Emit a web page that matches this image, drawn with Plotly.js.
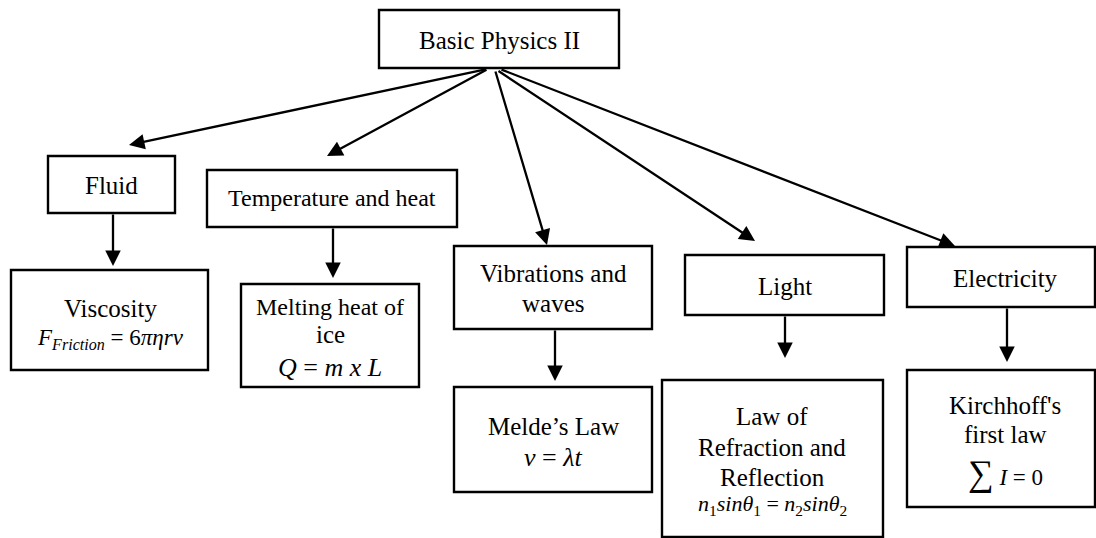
<!DOCTYPE html>
<html>
<head>
<meta charset="utf-8">
<script src="https://cdn.plot.ly/plotly-3.0.1.min.js"></script>
<style>html,body{margin:0;padding:0;background:#fff;}#chart{width:1096px;height:538px;}</style>
</head>
<body>
<div id="chart"></div>
<script>
// ---- content ----
const rootLabel = ["Basic Physics II"];
const topicLabels = [
  ["Fluid"],
  ["Temperature and heat"],
  ["Vibrations and", "waves"],
  ["Light"],
  ["Electricity"]
];
const lawLabels = [
  ["Viscosity", "<i>F</i><sub><i>Friction</i></sub> = 6<i>πηrv</i>"],
  ["Melting heat of", "ice", "<i>Q</i> = <i>m x L</i>"],
  ["Melde’s Law", "<i>v</i> = <i>λt</i>"],
  ["Law of", "Refraction and", "Reflection", "<i>n</i><sub>1</sub><i>sinθ</i><sub>1</sub> = <i>n</i><sub>2</sub><i>sinθ</i><sub>2</sub>"],
  ["Kirchhoff's", "first law", "<span style='font-size:36px'>∑</span> <i>I</i> = 0"]
];

// ---- layout geometry (pixels) ----
const rootBox = [379, 10, 619, 68];
const topicBoxes = [
  [48, 156, 175, 213],
  [207, 170, 457, 227],
  [454, 246, 652, 329],
  [685, 255, 884, 315],
  [907, 247, 1095, 307]
];
const lawBoxes = [
  [11, 270, 208, 370],
  [241, 284, 419, 387],
  [454, 387, 652, 492],
  [662, 380, 883, 537],
  [907, 370, 1095, 507]
];
const rootTextY = [40];
const topicTextY = [[185], [198], [273, 303], [286], [278]];
const topicTextX = [111, 332, 553, 785, 1005];
const lawTextY = [[308, 339], [307, 334, 367], [426, 457], [416, 447, 477, 505], [405, 434, 473]];
const lawTextX = [110, 330, 553, 772, 1005];
const lawFontSize = [[25, 23], [24, 25, 26], [25, 26], [25, 25, 25, 22], [25, 25, 23]];
const diagStart = [[487, 69], [488, 69], [495, 70], [497, 70], [500, 69]];
const diagEnd = [[129, 145], [327, 156], [547, 245], [755, 241], [955, 246]];
const downArrowX = [113, 333, 555, 785, 1007];
const downArrowEndY = [266, 278, 381, 358, 362];

const FONT = "Liberation Serif";
const shapes = [];
const annotations = [];
function box(b) {
  shapes.push({type: 'rect', xref: 'x', yref: 'y', x0: b[0], y0: b[1], x1: b[2], y1: b[3],
    line: {color: '#000', width: 2.4}, fillcolor: 'rgba(0,0,0,0)'});
}
function txt(x, y, t, size) {
  annotations.push({x: x, y: y, xref: 'x', yref: 'y', text: t, showarrow: false,
    font: {family: FONT, size: size, color: '#000'}, xanchor: 'center', yanchor: 'middle'});
}
function arrow(x0, y0, x1, y1) {
  annotations.push({x: x1, y: y1, ax: x0, ay: y0, xref: 'x', yref: 'y', axref: 'x', ayref: 'y',
    text: '', showarrow: true, arrowhead: 2, arrowsize: 1.35, arrowwidth: 2.3, arrowcolor: '#000', standoff: 0});
}

box(rootBox);
txt((rootBox[0] + rootBox[2]) / 2, rootTextY[0], rootLabel[0], 25);
const topicSizes = [25, 24, 25, 25, 25];
topicLabels.forEach((lines, i) => {
  box(topicBoxes[i]);
  lines.forEach((l, j) => txt(topicTextX[i], topicTextY[i][j], l, topicSizes[i]));
  arrow(diagStart[i][0], diagStart[i][1], diagEnd[i][0], diagEnd[i][1]);
  arrow(downArrowX[i], topicBoxes[i][3], downArrowX[i], downArrowEndY[i]);
});
lawLabels.forEach((lines, i) => {
  box(lawBoxes[i]);
  lines.forEach((l, j) => txt(lawTextX[i], lawTextY[i][j], l, lawFontSize[i][j]));
});

const layout = {
  width: 1096, height: 538,
  margin: {l: 0, r: 0, t: 0, b: 0},
  paper_bgcolor: '#fff', plot_bgcolor: '#fff',
  font: {family: FONT},
  xaxis: {range: [0, 1096], visible: false, fixedrange: true},
  yaxis: {range: [538, 0], visible: false, fixedrange: true},
  shapes: shapes, annotations: annotations, showlegend: false
};
Plotly.newPlot('chart', [], layout, {displayModeBar: false, staticPlot: true});
</script>
</body>
</html>
